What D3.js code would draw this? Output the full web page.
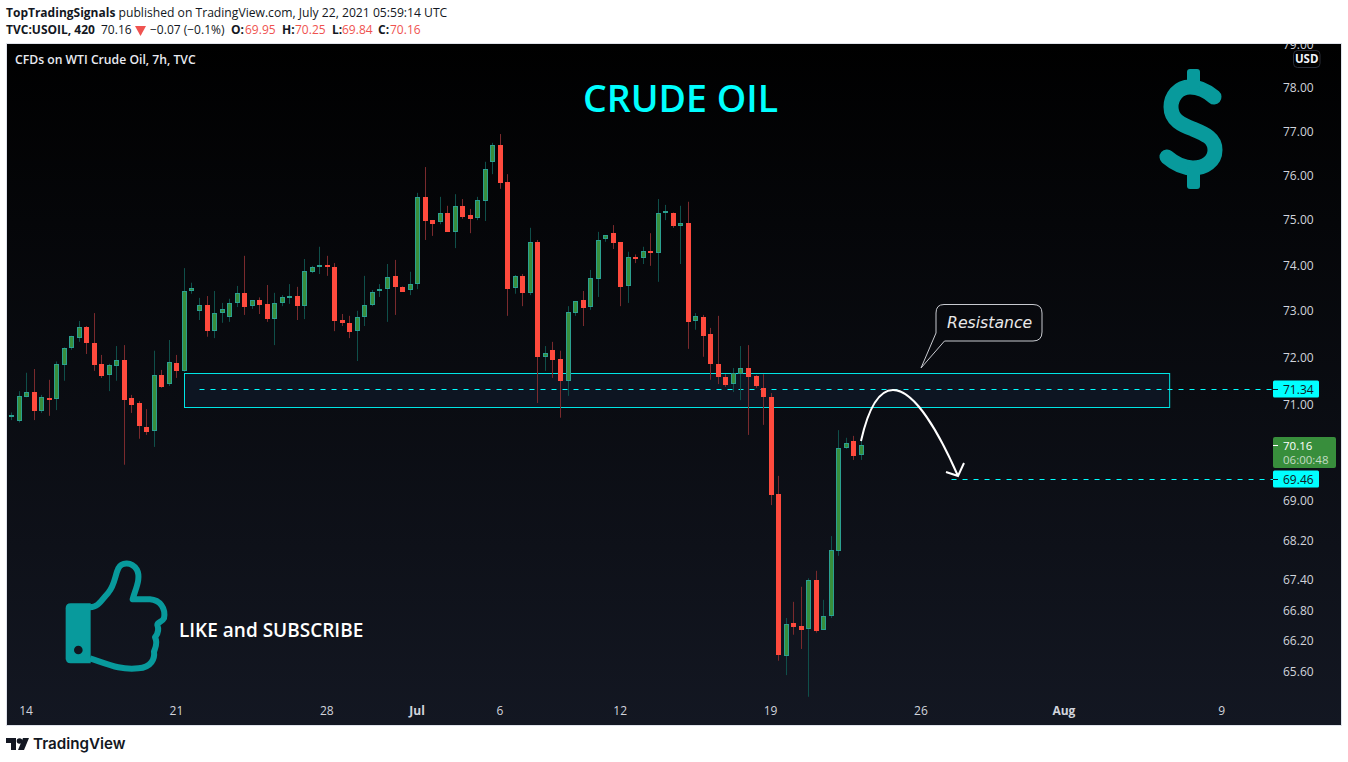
<!DOCTYPE html><html><head><meta charset="utf-8"><style>html,body{margin:0;background:#fff}svg{display:block}</style><script src="https://cdnjs.cloudflare.com/ajax/libs/d3/7.8.5/d3.min.js"></script></head><body><script>
const opens=[70.74,70.64,71.16,71.26,70.85,71.14,71.10,71.82,72.19,72.40,72.64,72.30,71.86,71.61,71.82,71.94,71.13,71.02,70.52,70.43,71.62,71.42,71.87,71.69,73.42,73.00,73.12,72.57,72.94,72.85,73.16,73.38,73.09,73.23,73.14,72.81,73.16,73.26,73.31,73.09,73.85,73.94,73.99,73.95,72.79,72.73,72.55,72.85,73.11,73.42,73.46,73.75,73.51,73.46,73.57,75.50,74.99,74.96,75.16,74.73,75.30,75.10,75.02,75.42,76.28,76.67,75.84,73.48,73.75,73.39,74.50,72.01,72.15,71.96,71.50,72.96,73.23,73.07,73.70,74.56,74.70,74.50,73.53,74.17,74.14,74.30,74.27,75.16,75.14,74.85,74.92,72.77,72.86,72.49,71.85,71.57,71.42,71.65,71.77,71.60,71.34,71.15,69.13,65.90,66.54,66.48,66.41,67.39,66.41,66.67,67.97,70.08,70.23,69.95];
const highs=[70.83,71.28,71.67,71.75,71.20,71.52,71.91,72.21,72.46,72.78,72.67,72.95,72.05,71.86,72.24,72.26,71.20,71.07,70.90,72.14,71.73,72.37,72.05,73.93,73.61,73.28,73.32,73.43,73.17,73.26,73.54,74.20,73.23,73.29,73.56,73.39,73.34,73.58,73.52,74.13,73.98,74.40,74.20,74.04,72.93,72.89,73.00,73.76,73.45,73.58,74.02,74.11,73.53,73.85,75.60,76.18,74.99,75.51,75.31,75.57,75.46,75.24,75.51,76.30,76.73,76.93,76.02,73.78,73.80,74.82,74.55,72.24,72.33,72.14,73.10,73.21,73.43,73.89,74.73,74.66,74.88,74.50,74.29,74.23,74.40,74.70,75.46,75.33,75.16,75.31,75.40,72.95,72.91,72.63,72.89,71.64,71.77,72.24,72.26,71.62,71.64,71.24,69.51,66.64,66.96,67.26,67.43,67.58,67.00,68.28,70.46,70.30,70.34,70.25];
const lows=[70.67,70.62,71.15,70.67,70.82,70.76,70.88,71.50,72.16,72.33,72.07,71.71,71.56,71.28,71.50,69.74,70.82,70.28,70.36,70.11,71.35,71.39,71.56,71.69,73.37,72.80,72.44,72.41,72.74,72.76,73.08,72.91,73.04,72.93,72.76,72.26,73.10,73.15,72.80,72.82,73.82,73.80,73.76,72.56,72.67,72.41,71.92,72.67,73.10,73.30,72.76,72.91,73.41,73.34,73.47,74.55,74.64,74.90,74.73,74.37,75.02,74.70,74.99,74.97,76.02,75.69,72.89,73.37,73.10,73.34,71.03,71.71,71.56,70.72,71.18,72.89,72.67,73.02,73.30,74.51,74.35,73.10,73.17,74.04,74.02,73.98,73.63,74.99,74.82,74.02,72.18,72.59,72.01,71.52,71.43,71.37,71.26,71.09,70.36,71.35,70.57,68.91,65.80,65.52,66.31,66.03,65.10,66.35,66.41,66.64,67.88,70.07,69.84,69.84];
const closes=[70.78,71.17,71.26,70.85,71.15,71.10,71.85,72.19,72.45,72.64,72.29,71.84,71.60,71.83,71.94,71.10,70.99,70.53,70.42,71.62,71.37,71.89,71.69,73.42,73.49,73.12,72.56,72.95,73.03,73.16,73.38,73.07,73.23,73.13,72.82,73.16,73.29,73.31,73.09,73.86,73.95,73.99,73.94,72.78,72.72,72.54,72.86,73.12,73.40,73.47,73.73,73.50,73.41,73.58,75.50,74.97,74.90,75.16,74.73,75.30,75.06,75.02,75.43,76.13,76.67,75.82,73.47,73.75,73.37,74.50,72.01,72.09,71.94,71.50,72.97,73.21,73.06,73.71,74.56,74.65,74.48,73.52,74.17,74.12,74.30,74.26,75.16,75.19,74.84,74.92,72.76,72.88,72.46,71.84,71.58,71.41,71.66,71.77,71.58,71.39,71.14,69.12,65.90,66.52,66.46,66.41,67.39,66.37,66.68,67.99,70.08,70.19,69.92,70.16];
const priceTicks=[79,78,77,76,75,74,73,72,71,69,68.2,67.4,66.8,66.2,65.6];
const dateLabels=["14","21","28","Jul","6","12","19","26","Aug","9"];
const dateBars=[2,22,42,54,65,81,101,121,140,161];
const boldDates=["Jul","Aug"];
const zonePrices=[71.66,70.94];
const zoneBars=[23,154];
const levels=[71.34,69.46];
const levelStartBars=[25,125];
const lastPrice=70.16;

const W=1348,H=762,cx0=7,cx1=1341,cy0=44,cy1=725;
const font="'Open Sans','Noto Sans',sans-serif";
const svg=d3.select("body").append("svg").attr("width",W).attr("height",H).style("font-family",font);
const defs=svg.append("defs");
const g=defs.append("linearGradient").attr("id","bg").attr("x1",0).attr("x2",0).attr("y1",0).attr("y2",1);
g.append("stop").attr("offset","0%").attr("stop-color","#000");
g.append("stop").attr("offset","100%").attr("stop-color","#131722");
defs.append("clipPath").attr("id","clip").append("rect").attr("x",cx0).attr("y",cy0).attr("width",cx1-cx0).attr("height",cy1-cy0);

// header
const t1=svg.append("text").attr("x",6).attr("y",17).attr("font-size",12).attr("fill","#131722");
t1.append("tspan").attr("font-weight",700).text("TopTradingSignals");
t1.append("tspan").attr("font-size",12.15).text(" published on TradingView.com, July 22, 2021 05:59:14 UTC");
const hdr=(x,s,o={})=>svg.append("text").attr("x",x).attr("y",34).attr("font-size",12).attr("font-weight",o.b?700:400).attr("fill",o.c||"#131722").text(s);
hdr(6,"TVC:USOIL, 420",{b:1});hdr(101,"70.16");
svg.append("path").attr("d","M135,26H146L140.5,36Z").attr("fill","#ef5350");
hdr(150,"−0.07 (−0.1%)");
[[231,"O:",245,"69.95"],[282,"H:",295,"70.25"],[332,"L:",342,"69.84"],[378,"C:",390,"70.16"]].forEach(d=>{hdr(d[0],d[1],{b:1});hdr(d[2],d[3],{c:"#ef5350"});});

// chart panel
svg.append("rect").attr("x",cx0-.5).attr("y",cy0-.5).attr("width",cx1-cx0+1).attr("height",cy1-cy0+1).attr("fill","url(#bg)").attr("stroke","#e0e3eb");
const chart=svg.append("g").attr("clip-path","url(#clip)");

const x=d3.scaleLinear().domain([0,113]).range([11.5,861.3]);
const y=d3.scaleLog().domain([78,65.6]).range([87.5,671]);
const px=i=>Math.round(x(i)-.5)+.5;

// zone
chart.append("rect").attr("x",px(zoneBars[0])).attr("y",Math.round(y(zonePrices[0]))+.5)
 .attr("width",x(zoneBars[1])-x(zoneBars[0])).attr("height",Math.round(y(zonePrices[1])-y(zonePrices[0])))
 .attr("fill","#0d1522").attr("stroke","#00e5e5").attr("stroke-width",1);
// levels
levels.forEach((l,i)=>chart.append("line").attr("x1",x(levelStartBars[i])).attr("x2",1273)
 .attr("y1",Math.round(y(l))+1.5).attr("y2",Math.round(y(l))+1.5).attr("stroke","#00ffff").attr("stroke-dasharray","5 6").attr("stroke-width",1));

// candles
const bars=d3.range(opens.length);
const up=i=>closes[i]>=opens[i];
chart.append("g").selectAll("line").data(bars).join("line")
 .attr("x1",px).attr("x2",px).attr("y1",i=>y(highs[i])).attr("y2",i=>y(lows[i]))
 .attr("stroke",i=>up(i)?"#0f4f4a":"#7a2a2d").attr("stroke-width",1);
chart.append("g").selectAll("rect").data(bars).join("rect")
 .attr("x",i=>px(i)-2).attr("width",4)
 .attr("y",i=>Math.round(y(Math.max(opens[i],closes[i])))+.5)
 .attr("height",i=>Math.max(1,Math.round(Math.abs(y(opens[i])-y(closes[i])))-1))
 .attr("fill",i=>up(i)?"#388e3c":"#ff4a3d").attr("stroke",i=>up(i)?"#2aa090":"#ff4a3d").attr("stroke-width",1);

// price axis
const axisG=chart.append("g").attr("transform","translate(1283,0)").call(d3.axisRight(y).tickValues(priceTicks).tickSize(0).tickPadding(0).tickFormat(d3.format(".2f")));
axisG.select(".domain").remove();
axisG.selectAll("text").attr("fill","#d1d4dc").attr("font-size",12).attr("font-family",font).attr("dy","0.35em");

// date axis
const axisX=chart.append("g").attr("transform","translate(-1,711)").call(d3.axisBottom(x).tickValues(dateBars).tickSize(0).tickPadding(0).tickFormat((d,i)=>dateLabels[i]));
axisX.select(".domain").remove();
axisX.selectAll("text").attr("fill","#d1d4dc").attr("font-size",12).attr("font-family",font).attr("dy","0.35em")
 .attr("font-weight",function(){return boldDates.includes(d3.select(this).text())?700:400;});

// labels on the axis
levels.forEach(l=>{const c=Math.round(y(l))+1;
 svg.append("rect").attr("x",1273).attr("y",c-8.5).attr("width",46).attr("height",17).attr("rx",1.5).attr("fill","#00ffff");
 svg.append("rect").attr("x",1273).attr("y",c).attr("width",5).attr("height",1).attr("fill","#131722");
 svg.append("text").attr("x",1283).attr("y",c+4.5).attr("font-size",12).attr("fill","#131722").text(l.toFixed(2));});
svg.append("rect").attr("x",1273).attr("y",437).attr("width",63).attr("height",31).attr("rx",2).attr("fill","#388e3c");
svg.append("rect").attr("x",1273).attr("y",445).attr("width",5).attr("height",1).attr("fill","#fff");
svg.append("text").attr("x",1283).attr("y",449.5).attr("font-size",11.5).attr("fill","#fff").text(lastPrice.toFixed(2));
svg.append("text").attr("x",1283).attr("y",464).attr("font-size",11.5).attr("fill","#c3dcc4").text("06:00:48");
svg.append("rect").attr("x",1293.5).attr("y",50.5).attr("width",26.5).attr("height",17).attr("rx",4).attr("fill","#000").attr("stroke","#2a2e39");
svg.append("text").attr("x",1306.7).attr("y",63).attr("text-anchor","middle").attr("font-size",11.5).attr("font-weight",700).attr("fill","#f0f3fa").text("USD");

// annotations
svg.append("text").attr("x",15).attr("y",64).attr("font-size",12.2).attr("font-weight",600).attr("fill","#e8eaf0").text("CFDs on WTI Crude Oil, 7h, TVC");
svg.append("text").attr("x",680.5).attr("y",112).attr("text-anchor","middle").attr("font-size",37.5).attr("font-weight",600).attr("fill","#00ffff").text("CRUDE OIL");
svg.append("text").attr("x",179).attr("y",637).attr("font-size",19).attr("font-weight",600).attr("fill","#fff").text("LIKE and SUBSCRIBE");
const teal="#089a9c";
// dollar
svg.append("path").attr("d","M1214,97C1206,90 1198,87 1190,87C1178,87 1171,97 1171,107C1171,120 1182,125 1193,129C1205,134 1215,138 1215,150C1215,161 1205,168 1193,168C1183,168 1174,163 1167,157")
 .attr("fill","none").attr("stroke",teal).attr("stroke-width",15).attr("stroke-linecap","round");
svg.append("rect").attr("x",1187).attr("y",69).attr("width",13).attr("height",20).attr("rx",3).attr("fill",teal);
svg.append("rect").attr("x",1187).attr("y",166).attr("width",13).attr("height",23).attr("rx",3).attr("fill",teal);
// thumb
const th=svg.append("g").attr("transform","translate(40,550) scale(.3333)");
th.append("path").attr("d","M150,172C175,172 185,150 205,128C225,104 225,75 235,55C245,35 275,35 290,58C305,85 285,120 278,148H330C360,150 378,175 372,205C366,218 352,215 352,225C360,245 350,255 345,262C355,280 345,295 342,305C345,325 335,352 295,355C240,360 210,345 150,325")
 .attr("fill","none").attr("stroke",teal).attr("stroke-width",18).attr("stroke-linejoin","round");
th.append("path").attr("d","M92,160H152V340H92Q77,340 77,325V175Q77,160 92,160Z").attr("fill",teal);
th.append("circle").attr("cx",115).attr("cy",300).attr("r",13).attr("fill","#11151f");
// resistance callout
svg.append("path").attr("d","M944,304.5H1033Q1042,304.5 1042,313V332Q1042,341 1033,341H944.5L921,368L936,333V313Q936,304.5 944,304.5Z").attr("fill","none").attr("stroke","#c8cad0").attr("stroke-width",1);
svg.append("text").attr("x",947).attr("y",328).attr("font-size",15.7).attr("font-style","italic").attr("font-family","'DejaVu Sans'").attr("fill","#e8e8e8").text("Resistance");
// projected arrow
svg.append("path").attr("d","M861,441C868,410 878,390 893,390C915,390 940,435 958,476M946,472L958,476L964,463").attr("fill","none").attr("stroke","#fff").attr("stroke-width",2);

// logo
const lg=svg.append("g").attr("fill","#131722");
lg.append("path").attr("d","M6,738H16V750H11V743H6Z");
lg.append("circle").attr("cx",19.5).attr("cy",741).attr("r",2.8);
lg.append("path").attr("d","M23,738H29L24,750H18Z");
svg.append("text").attr("x",33).attr("y",749).attr("font-size",15.2).attr("font-weight",600).attr("font-family","Inter,'Noto Sans',sans-serif").attr("fill","#131722").text("TradingView");
</script></body></html>
